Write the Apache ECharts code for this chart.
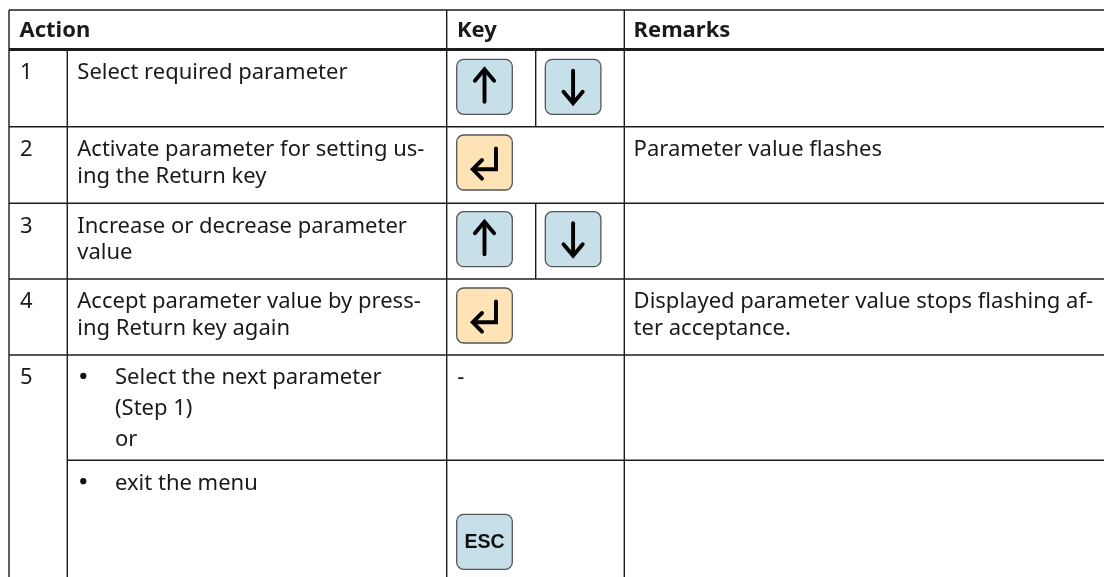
<!DOCTYPE html>
<html>
<head>
<meta charset="utf-8">
<script src="https://cdn.jsdelivr.net/npm/echarts@6/dist/echarts.min.js"></script>
<style>
  html, body { margin: 0; padding: 0; background: #ffffff; }
  #chart { width: 1104px; height: 577px; }
</style>
</head>
<body>
<div id="chart"></div>
<script>
// ---------------- DATA ----------------
const headers = ['Action', 'Key', 'Remarks'];
const stepNumbers = ['1', '2', '3', '4', '5'];
const actionLines = [
  ['Select required parameter'],
  ['Activate parameter for setting us-', 'ing the Return key'],
  ['Increase or decrease parameter', 'value'],
  ['Accept parameter value by press-', 'ing Return key again'],
  ['Select the next parameter', '(Step 1)', 'or'],
  ['exit the menu']
];
const actionBullets = [false, false, false, false, true, true];
// keys per row: 'up', 'down', 'enter', 'esc', or plain text
const keyItems = [
  ['up', 'down'],
  ['enter'],
  ['up', 'down'],
  ['enter'],
  ['-'],
  ['esc']
];
const remarkLines = [
  [],
  ['Parameter value flashes'],
  [],
  ['Displayed parameter value stops flashing af-', 'ter acceptance.'],
  [],
  []
];

// ---------------- LAYOUT ----------------
const W = 1104, H = 577;
const X_LEFT = 9, X_NUM = 67.3, X_KEY = 446.7, X_SPLIT = 535.7, X_REM = 624.3;
const Y_TOP = 10, Y_HEAD = 49.5;
// sub-row boundaries (row 5 splits into 5a/5b)
const rowTops = [49.5, 126.7, 203.3, 279, 355, 460.3];
const rowStep = [0, 1, 2, 3, 4, null];           // which step number is printed in each sub-row
const lineOffsets = [[0], [0, 26.7], [0, 26.7], [0, 26.7], [0, 30.5, 62], [0]];
const FIRST_BASE = 29.5;
const FONT = '"Noto Sans", "Open Sans", sans-serif';
const FS = 22;
const MID = 6.3; // baseline -> middle offset
const TEXT_COL = '#1a1a1a';
const LINE_COL = '#1c1c1c';
const BTN = 55.6, BTN_H = 55, BTN_R = 7;
const BLUE = '#c6dfe9', ORANGE = '#fde3b6', BTN_STROKE = '#555555';

const g = [];

function txt(s, x, base, opts) {
  opts = opts || {};
  g.push({
    type: 'text', silent: true, z: 10,
    style: {
      text: s, x: x, y: base - MID,
      fill: opts.fill || TEXT_COL,
      fontSize: opts.fontSize || FS,
      fontFamily: opts.fontFamily || FONT,
      fontWeight: opts.fontWeight || 'normal',
      align: opts.align || 'left',
      verticalAlign: 'middle'
    }
  });
}
function hline(x1, x2, y, w) {
  g.push({ type: 'line', silent: true, z: 5,
    shape: { x1: x1, y1: y, x2: x2, y2: y },
    style: { stroke: LINE_COL, lineWidth: w || 1.4 } });
}
function vline(x, y1, y2, w) {
  g.push({ type: 'line', silent: true, z: 5,
    shape: { x1: x, y1: y1, x2: x, y2: y2 },
    style: { stroke: LINE_COL, lineWidth: w || 1.4 } });
}
function button(x, y, fill) {
  g.push({ type: 'rect', silent: true, z: 6,
    shape: { x: x, y: y, width: BTN, height: BTN_H, r: BTN_R },
    style: { fill: fill, stroke: BTN_STROKE, lineWidth: 1.3 } });
}
function poly(points) {
  g.push({ type: 'polyline', silent: true, z: 7,
    shape: { points: points },
    style: { stroke: '#000', lineWidth: 3.9, fill: null, lineJoin: 'miter', lineCap: 'round' } });
}
function keyUp(x, y) {
  button(x, y, BLUE);
  const cx = x + BTN / 2, tip = y + 10, end = y + 42.5;
  poly([[cx, tip + 1.5], [cx, end]]);
  poly([[cx - 9.6, tip + 11.5], [cx, tip], [cx + 9.6, tip + 11.5]]);
}
function keyDown(x, y) {
  button(x, y, BLUE);
  const cx = x + BTN / 2, top = y + 11.5, tip = y + 44;
  poly([[cx, top], [cx, tip - 1.5]]);
  poly([[cx - 9.6, tip - 11.5], [cx, tip], [cx + 9.6, tip - 11.5]]);
}
function keyEnter(x, y) {
  button(x, y, ORANGE);
  const vx = x + 39.3, y1 = y + 13.5, hy = y + 34.3, tipX = x + 16;
  poly([[vx, y1], [vx, hy], [tipX + 1.5, hy]]);
  poly([[tipX + 9.3, hy - 9.3], [tipX, hy], [tipX + 9.3, hy + 9.3]]);
}
function keyEsc(x, y) {
  button(x, y, BLUE);
  g.push({ type: 'text', silent: true, z: 8,
    style: { text: 'ESC', x: x + BTN / 2, y: y + BTN_H / 2 + 1,
      fill: '#111', fontSize: 19.5, fontWeight: 'bold',
      fontFamily: '"Liberation Sans", Arial, sans-serif',
      align: 'center', verticalAlign: 'middle' } });
}

// ---------------- GRID LINES ----------------
hline(X_LEFT, W, Y_TOP, 1.4);
hline(X_LEFT, W, Y_HEAD, 3);
for (let i = 1; i < rowTops.length; i++) {
  const x1 = rowStep[i] === null ? X_NUM : X_LEFT;
  hline(x1, W, rowTops[i], 1.4);
}
vline(X_LEFT, Y_TOP, H + 5);
vline(X_NUM, Y_HEAD, H + 5);
vline(X_KEY, Y_TOP, H + 5);
vline(X_REM, Y_TOP, H + 5);
keyItems.forEach(function (items, i) {
  if (items.length === 2) {
    const bottom = i + 1 < rowTops.length ? rowTops[i + 1] : H;
    vline(X_SPLIT, rowTops[i], bottom);
  }
});

// ---------------- HEADER ----------------
const headX = [X_LEFT + 10.5, X_KEY + 10.3, X_REM + 9.3];
headers.forEach(function (h, i) {
  txt(h, headX[i], 37, { fontWeight: 'bold' });
});

// ---------------- ROWS ----------------
const btnOffset = [9.8, 8.3, 8.4, 9, 0, 54];
rowTops.forEach(function (top, i) {
  const base = top + FIRST_BASE;
  if (rowStep[i] !== null) txt(stepNumbers[rowStep[i]], X_LEFT + 11, base);
  const tx = actionBullets[i] ? 115 : X_NUM + 10;
  actionLines[i].forEach(function (s, k) {
    txt(s, tx, base + lineOffsets[i][k]);
  });
  if (actionBullets[i]) {
    g.push({ type: 'circle', silent: true, z: 8,
      shape: { cx: 83.3, cy: base - 8.6, r: 3.1 }, style: { fill: '#111' } });
  }
  remarkLines[i].forEach(function (s, k) {
    txt(s, X_REM + 9.3, base + k * 26.7);
  });
  const by = top + btnOffset[i];
  keyItems[i].forEach(function (k, j) {
    const bx = j === 0 ? 456.7 : 545.3;
    if (k === 'up') keyUp(bx, by);
    else if (k === 'down') keyDown(bx, by);
    else if (k === 'enter') keyEnter(bx, by);
    else if (k === 'esc') keyEsc(bx, by);
    else txt(k, X_KEY + 10.5, base);
  });
});

const chart = echarts.init(document.getElementById('chart'), null, { renderer: 'canvas', width: W, height: H });
chart.setOption({
  backgroundColor: '#ffffff',
  animation: false,
  graphic: { elements: g }
});
</script>
</body>
</html>
